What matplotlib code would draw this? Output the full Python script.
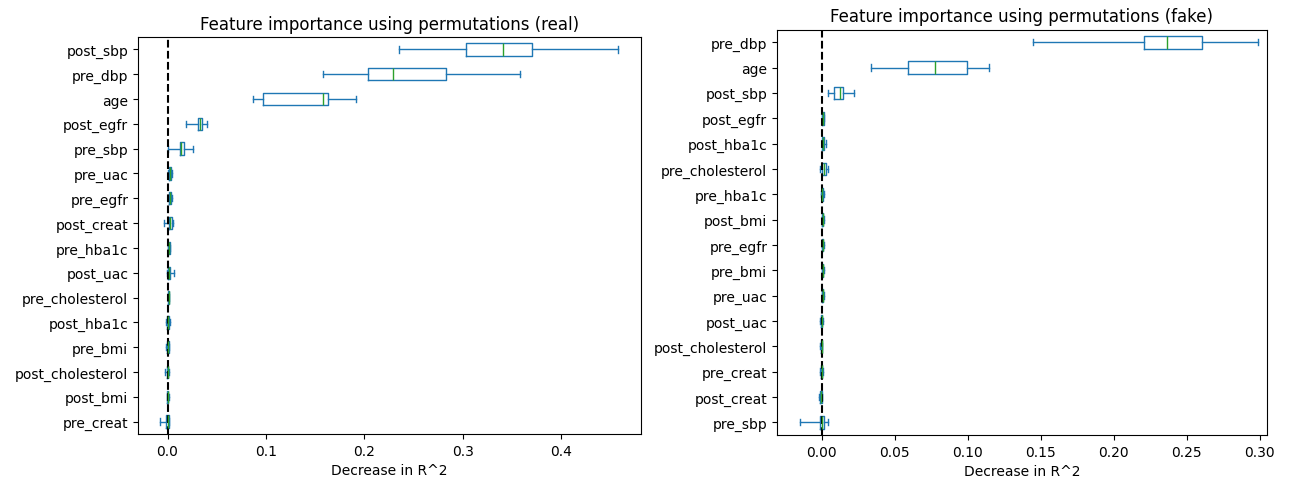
import matplotlib
matplotlib.use("Agg")
import matplotlib.pyplot as plt

# feature order from top to bottom, box stats
real_features = ['post_sbp', 'pre_dbp', 'age', 'post_egfr', 'pre_sbp', 'pre_uac',
                 'pre_egfr', 'post_creat', 'pre_hba1c', 'post_uac', 'pre_cholesterol',
                 'post_hba1c', 'pre_bmi', 'post_cholesterol', 'post_bmi', 'pre_creat']
real_min = [0.2354, 0.1575, 0.0870, 0.0189, 0.0000, 0.0000, 0.0000, -0.0040,
            0.0000, -0.0010, 0.0000, -0.0020, -0.0020, -0.0030, -0.0010, -0.0076]
real_q1 = [0.3035, 0.2032, 0.0965, 0.0311, 0.0122, 0.0010, 0.0010, 0.0010,
           0.0005, 0.0005, 0.0003, -0.0010, -0.0010, -0.0010, -0.0005, -0.0015]
real_med = [0.3411, 0.2287, 0.1578, 0.0333, 0.0135, 0.0025, 0.0025, 0.0030,
            0.0015, 0.0015, 0.0010, 0.0005, 0.0000, 0.0000, 0.0000, 0.0000]
real_q3 = [0.3706, 0.2825, 0.1632, 0.0352, 0.0167, 0.0040, 0.0040, 0.0050,
           0.0025, 0.0030, 0.0015, 0.0020, 0.0015, 0.0008, 0.0008, 0.0015]
real_max = [0.4577, 0.3580, 0.1917, 0.0402, 0.0254, 0.0045, 0.0045, 0.0055,
            0.0030, 0.0066, 0.0020, 0.0030, 0.0020, 0.0010, 0.0010, 0.0020]

fake_features = ['pre_dbp', 'age', 'post_sbp', 'post_egfr', 'post_hba1c', 'pre_cholesterol',
                 'pre_hba1c', 'post_bmi', 'pre_egfr', 'pre_bmi', 'pre_uac', 'post_uac',
                 'post_cholesterol', 'pre_creat', 'post_creat', 'pre_sbp']
fake_min = [0.1450, 0.0336, 0.0043, 0.0000, 0.0000, -0.0013, -0.0005, 0.0000,
            0.0000, 0.0000, 0.0000, -0.0010, -0.0010, -0.0010, -0.0015, -0.0149]
fake_q1 = [0.2205, 0.0591, 0.0087, 0.0005, 0.0005, 0.0000, 0.0000, 0.0003,
           0.0003, 0.0003, 0.0003, -0.0005, -0.0005, -0.0005, -0.0010, -0.0010]
fake_med = [0.2365, 0.0779, 0.0123, 0.0010, 0.0012, 0.0015, 0.0005, 0.0008,
            0.0008, 0.0008, 0.0008, 0.0000, 0.0000, 0.0000, -0.0005, 0.0000]
fake_q3 = [0.2608, 0.0998, 0.0149, 0.0015, 0.0020, 0.0030, 0.0010, 0.0013,
           0.0013, 0.0010, 0.0013, 0.0005, 0.0003, 0.0005, 0.0000, 0.0020]
fake_max = [0.2991, 0.1144, 0.0220, 0.0020, 0.0030, 0.0043, 0.0015, 0.0020,
            0.0020, 0.0015, 0.0020, 0.0010, 0.0005, 0.0010, 0.0000, 0.0043]


def draw_panel(ax, features, lo, q1, med, q3, hi, title, xlim):
    # pandas-style box plot: first item at the bottom
    stats = []
    for i in range(len(features) - 1, -1, -1):
        stats.append(dict(med=med[i], q1=q1[i], q3=q3[i],
                          whislo=lo[i], whishi=hi[i], fliers=[]))
    ax.bxp(stats, positions=range(1, len(stats) + 1), widths=0.5,
           orientation='horizontal',
           boxprops=dict(color='C0'), whiskerprops=dict(color='C0'),
           capprops=dict(color='C0'), medianprops=dict(color='C2'))
    ax.set_yticks(range(1, len(stats) + 1))
    ax.set_yticklabels(features[::-1])
    ax.set_ylim(0.5, len(stats) + 0.5)
    ax.set_xlim(*xlim)
    ax.axvline(x=0, color='k', linestyle='--')
    ax.set_title(title, fontsize=12)
    ax.set_xlabel('Decrease in R^2')


fig = plt.figure(figsize=(12.99, 4.85), dpi=100)
W, H = 1299, 485
ax1 = fig.add_axes([138 / W, (H - 435) / H, 503 / W, 397 / H])
ax2 = fig.add_axes([777 / W, (H - 436) / H, 490 / W, 405.5 / H])

draw_panel(ax1, real_features, real_min, real_q1, real_med, real_q3, real_max,
           'Feature importance using permutations (real)', (-0.030, 0.481))
draw_panel(ax2, fake_features, fake_min, fake_q1, fake_med, fake_q3, fake_max,
           'Feature importance using permutations (fake)', (-0.0305, 0.3050))
ax1.set_xticks([0.0, 0.1, 0.2, 0.3, 0.4])
ax2.set_xticks([0.0, 0.05, 0.10, 0.15, 0.20, 0.25, 0.30])

fig.savefig('out.png', dpi=100)
